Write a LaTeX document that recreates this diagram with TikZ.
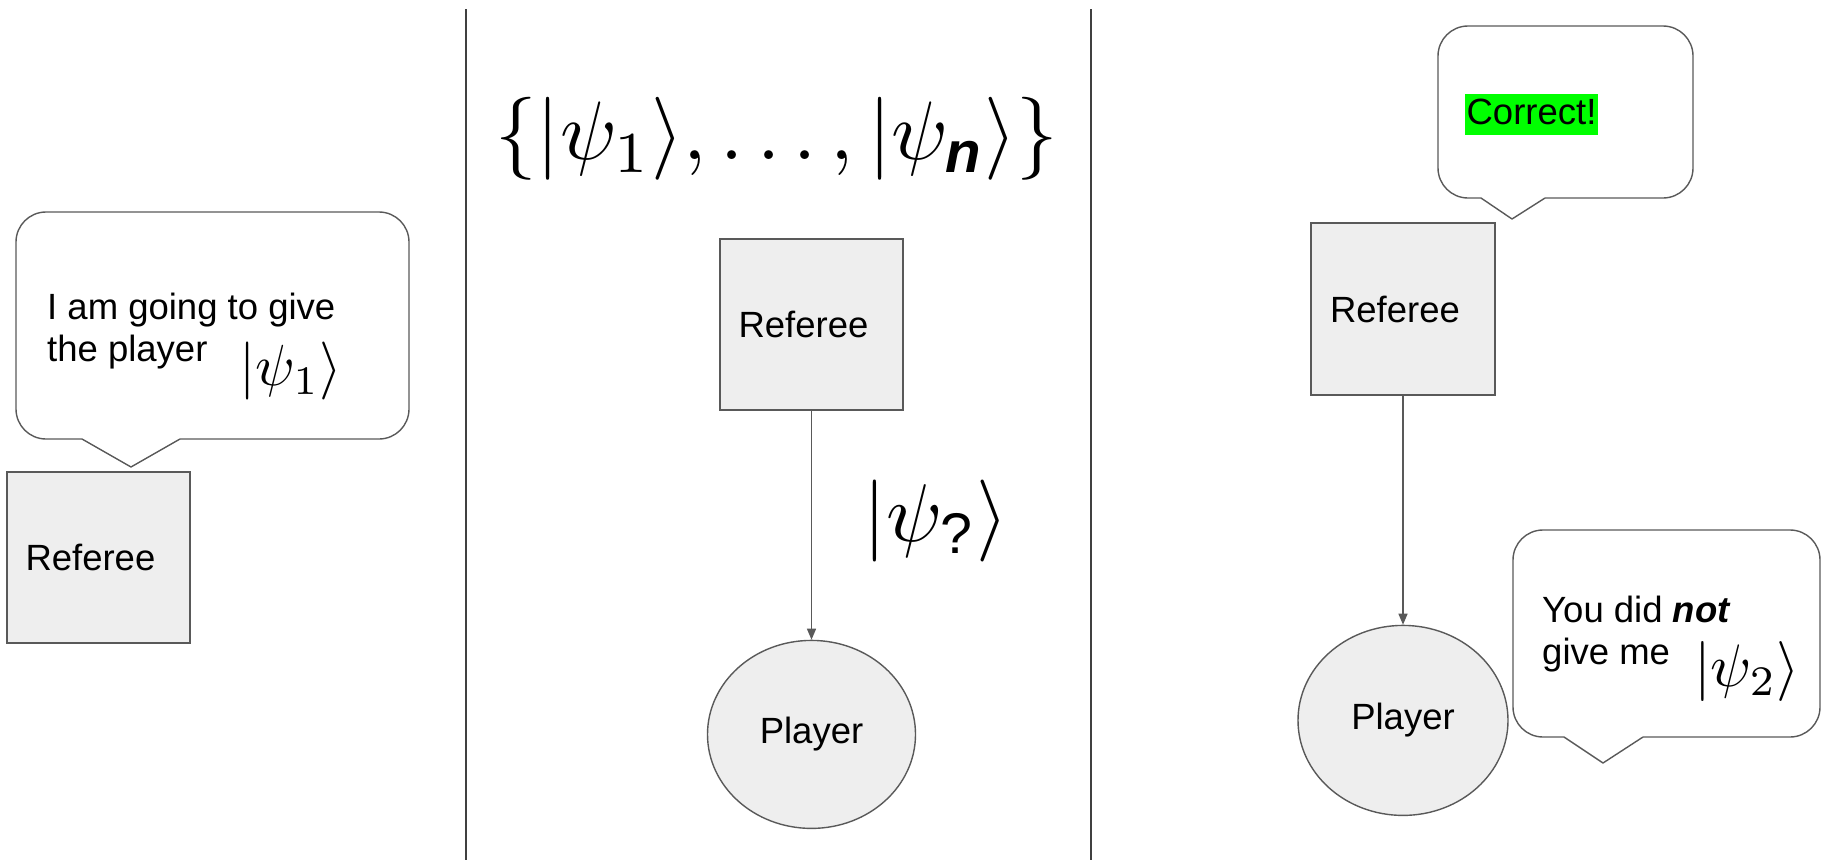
\documentclass[tikz,border=0pt]{standalone}
\usepackage[no-math]{fontspec}
\setmainfont{Liberation Sans}
\usepackage{amsmath}
\usepackage{graphicx}
\usetikzlibrary{arrows.meta, positioning, shapes.geometric}

\definecolor{edgegray}{HTML}{595959}
\definecolor{boxgray}{HTML}{EEEEEE}
\definecolor{hlgreen}{HTML}{00FF00}

\newcommand{\qket}[1]{\lvert #1\rangle}
% math set at 10pt, then blown up
\newcommand{\bigmath}[2]{\scalebox{#1}{\normalsize$#2$}}
% speech bubble: left, top, right, bottom, tail left, tail right, tip x, tip y
\newcommand{\speech}[8]{%
  \draw[bubble, rounded corners=30pt] (#6,#4) -- (#3,#4) -- (#3,#2) -- (#1,#2) -- (#1,#4) -- (#5,#4);
  \draw[bubble] (#5,#4) -- (#7,#8) -- (#6,#4);
}

\begin{document}
\begin{tikzpicture}[
  x=1pt, y=-1pt,
  font=\fontsize{36.5}{42}\selectfont,
  party/.style={draw=edgegray, fill=boxgray, line width=1.4pt, inner sep=0pt},
  referee/.style={party, rectangle, minimum width=183pt, minimum height=171pt,
    text width=146pt, align=left},
  player/.style={party, ellipse, minimum width=208pt, minimum height=188pt},
  bubble/.style={draw=edgegray, line width=1.4pt, line join=round},
  say/.style={align=left, anchor=north west, inner sep=0pt},
  send/.style={draw=edgegray, line width=1.4pt, -{Triangle[length=11pt,width=9pt]}},
  divider/.style={draw=black!75, line width=1.4pt}
]
  \useasboundingbox (0,0) rectangle (1823,860);

  % panel borders
  \draw[divider] (466,9) -- (466,860);
  \draw[divider] (1091,9) -- (1091,860);

  % first panel
  \speech{16}{212}{409}{439}{82}{180}{131}{467}
  \node[say] (sayA) at (47,293) {I am going to give\\the player};
  \node[inner sep=0pt] (psiA) at (291,371) {\bigmath{5.8}{\qket{\psi_1}}};
  \node[referee] (refA) at (98.5,557.5) {Referee};

  % second panel
  \node[inner sep=0pt] (states) at (777,139) {\bigmath{8.3}{\{\qket{\psi_1},\ldots,\qket{\psi_{\text{\bfseries\itshape n}}}\}}};
  \node[referee] (refB) at (811.5,324.5) {Referee};
  \node[player, below=229pt of refB] (plyB) {Player};
  \draw[send] (refB) -- (plyB);
  \node[inner sep=0pt] (psiB) at (936,521) {\bigmath{8.2}{\qket{\psi_{\text{?}}}}};

  % third panel
  \speech{1438}{26}{1693}{198}{1481}{1545}{1512}{219}
  \node[fill=hlgreen, inner xsep=2pt, inner ysep=0pt, text height=31pt, text depth=10pt] (okmsg) at (1531.5,114) {Correct!};
  \node[referee, minimum width=184pt, minimum height=172pt] (refC) at (1403,309) {Referee};
  \node[player, minimum width=210pt, minimum height=190pt, below=229pt of refC] (plyC) {Player};
  \draw[send] (refC) -- (plyC);
  \speech{1513}{530}{1820}{737}{1564}{1643}{1603}{763}
  \node[say] (sayC) at (1542,596) {You did \textbf{\textit{not}}\\give me};
  \node[inner sep=0pt] (psiC) at (1747,671) {\bigmath{6.0}{\qket{\psi_2}}};
\end{tikzpicture}
\end{document}
